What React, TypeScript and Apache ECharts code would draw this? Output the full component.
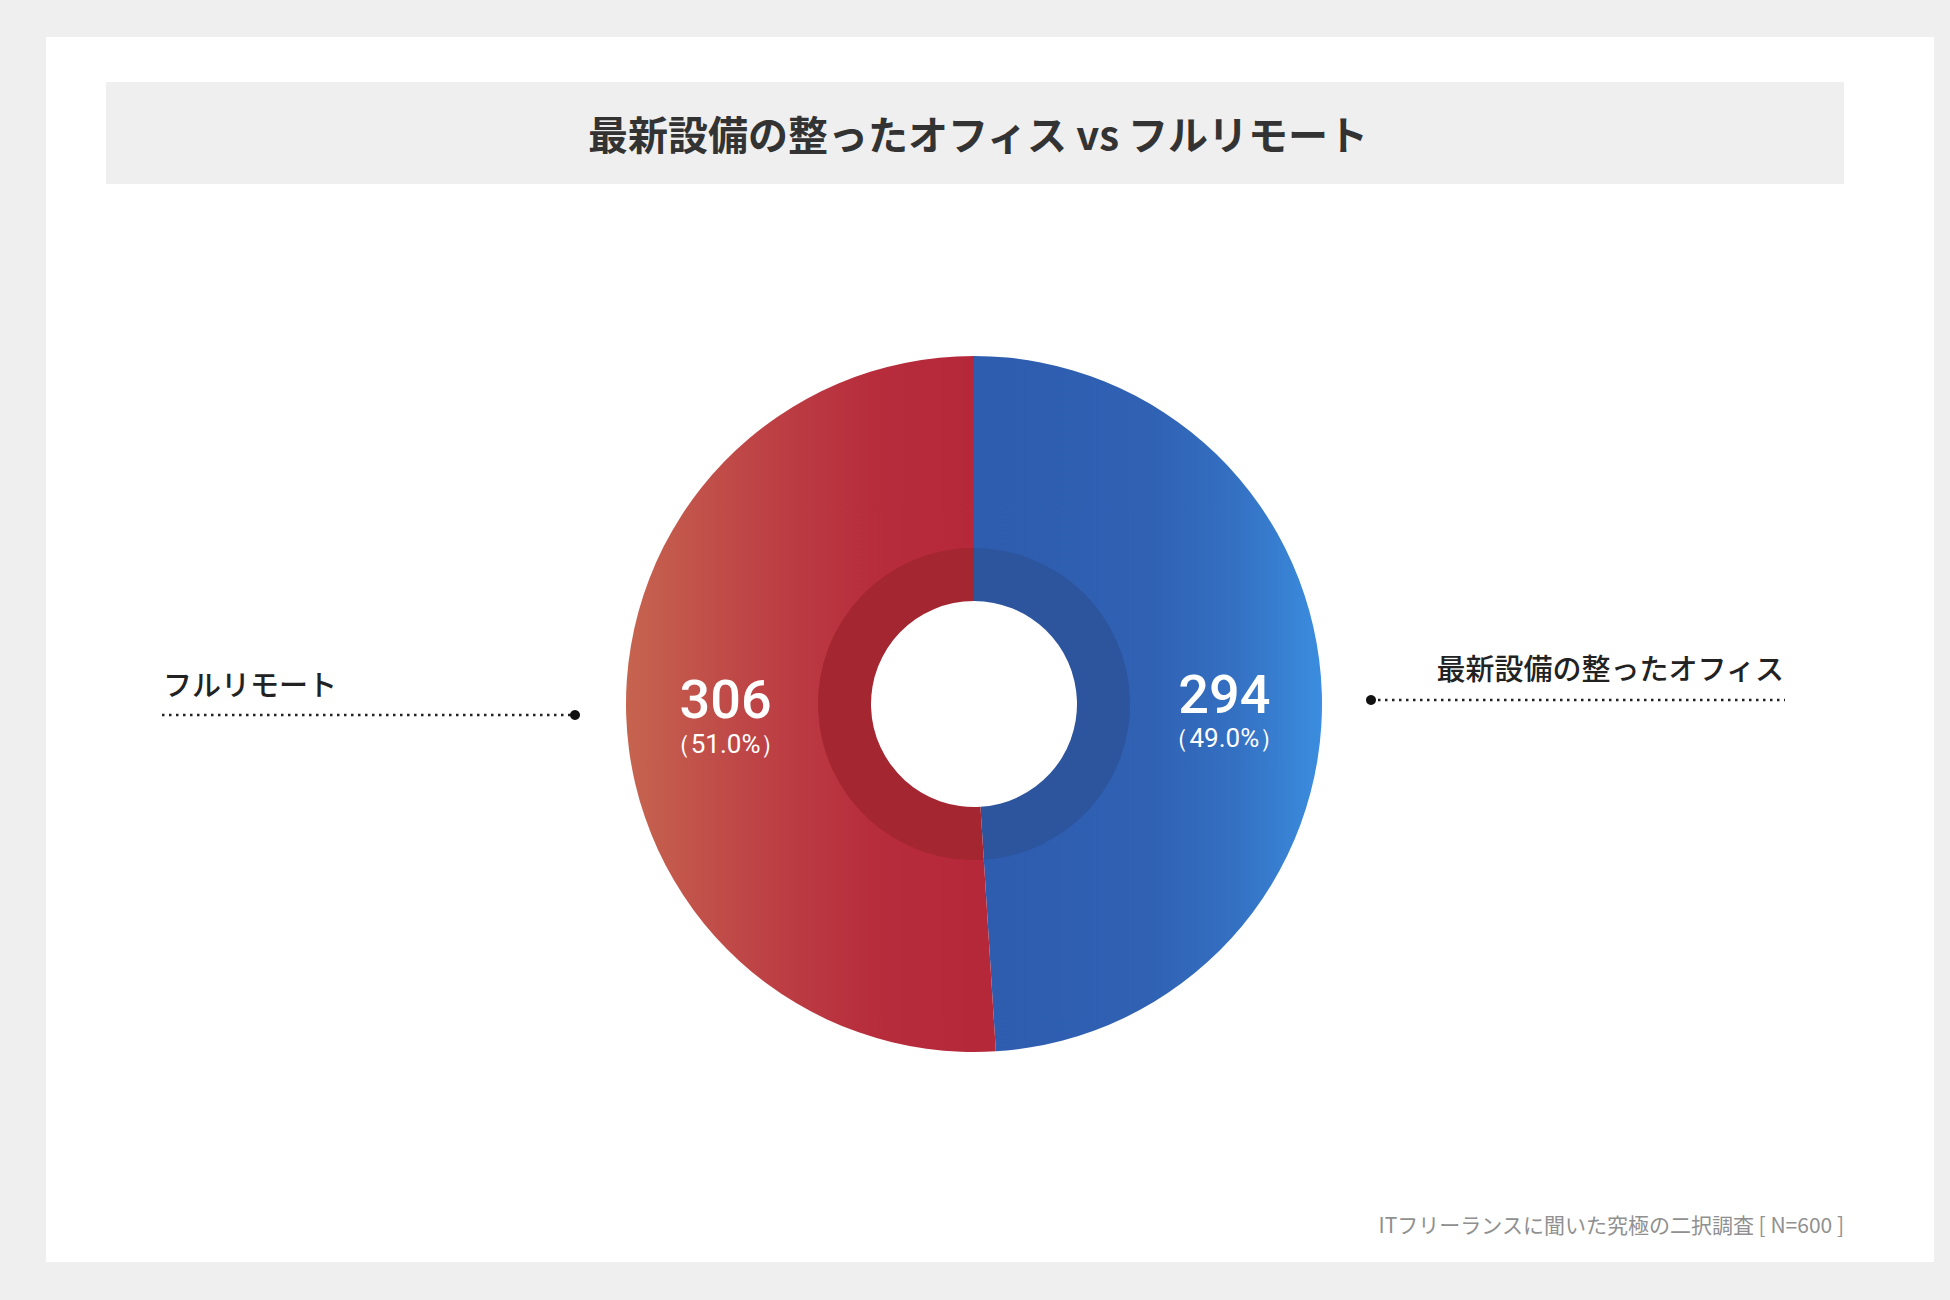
import React, { useEffect, useRef } from 'react';
import * as echarts from 'echarts';

// survey data
const TITLE = '最新設備の整ったオフィス vs フルリモート';
const CATEGORIES = ['最新設備の整ったオフィス', 'フルリモート'];
const VALUES = [294, 306];
const SOURCE_NOTE = 'ITフリーランスに聞いた究極の二択調査 [ N=600 ]';

const JP_FONT = "'Noto Sans CJK JP', 'Noto Sans', sans-serif";
const NUM_FONT = "Roboto, 'Noto Sans', sans-serif";

// donut geometry
const CX = 974;
const CY = 704;
const R_OUT = 348;
const R_MID = 156;
const R_IN = 103;

const App: React.FC = () => {
  const chartRef = useRef<HTMLDivElement>(null);

  useEffect(() => {
    if (!chartRef.current) return;
    const chart = echarts.init(chartRef.current, null, { renderer: 'svg' });

    const blueGrad = new echarts.graphic.LinearGradient(CX, 0, CX + R_OUT, 0, [
      { offset: 0, color: '#2e5caf' },
      { offset: 0.5, color: '#3061b3' },
      { offset: 0.75, color: '#3470c2' },
      { offset: 1, color: '#3b8ddf' }
    ], true);
    const redGrad = new echarts.graphic.LinearGradient(CX - R_OUT, 0, CX, 0, [
      { offset: 0, color: '#c6644f' },
      { offset: 0.4, color: '#bd4145' },
      { offset: 0.7, color: '#b72d3c' },
      { offset: 1, color: '#b5283a' }
    ], true);
    const outerColors = [blueGrad, redGrad];
    const ringColors = ['#2c559e', '#a32630'];
    const labelOffsets = [[-4, 14], [6, 4]];

    const option = {
      animation: false,
      backgroundColor: '#efefef',
      graphic: [
        { type: 'rect', z: 0, silent: true, shape: { x: 46, y: 37, width: 1888, height: 1225 }, style: { fill: '#ffffff' } },
        { type: 'rect', z: 1, silent: true, shape: { x: 106, y: 82, width: 1738, height: 102 }, style: { fill: '#efefef' } },
        {
          type: 'text', z: 2, x: 978, y: 133,
          style: { text: TITLE, font: `bold 40px ${JP_FONT}`, fill: '#333333', textAlign: 'center', textVerticalAlign: 'middle' }
        },
        // left label: フルリモート
        {
          type: 'text', z: 2, x: 163, y: 683,
          style: { text: CATEGORIES[1], font: `500 29px ${JP_FONT}`, fill: '#222222', textAlign: 'left', textVerticalAlign: 'middle' }
        },
        { type: 'line', z: 2, shape: { x1: 162, y1: 715, x2: 575, y2: 715 }, style: { stroke: '#222222', lineWidth: 2.5, lineDash: [2.5, 4.5] } },
        { type: 'circle', z: 2, shape: { cx: 575, cy: 715, r: 5 }, style: { fill: '#111111' } },
        // right label: office
        {
          type: 'text', z: 2, x: 1784, y: 667,
          style: { text: CATEGORIES[0], font: `500 29px ${JP_FONT}`, fill: '#222222', textAlign: 'right', textVerticalAlign: 'middle' }
        },
        { type: 'line', z: 2, shape: { x1: 1371, y1: 700, x2: 1785, y2: 700 }, style: { stroke: '#222222', lineWidth: 2.5, lineDash: [2.5, 4.5] } },
        { type: 'circle', z: 2, shape: { cx: 1371, cy: 700, r: 5 }, style: { fill: '#111111' } },
        {
          type: 'text', z: 2, x: 1844, y: 1224,
          style: { text: SOURCE_NOTE, font: `21px ${JP_FONT}`, fill: '#909090', textAlign: 'right', textVerticalAlign: 'middle' }
        }
      ],
      series: [
        {
          type: 'pie',
          z: 3,
          center: [CX, CY],
          radius: [R_MID - 1, R_OUT],
          startAngle: 90,
          clockwise: true,
          silent: true,
          avoidLabelOverlap: false,
          emphasis: { disabled: true },
          labelLine: { show: false },
          label: {
            show: true,
            position: 'inside',
            formatter: (p: any) => `{n|${p.value}}\n{p|（${p.percent.toFixed(1)}%）}`,
            rich: {
              n: { fontFamily: NUM_FONT, fontWeight: 500, fontSize: 54, lineHeight: 56, color: '#ffffff', align: 'center' },
              p: { fontFamily: NUM_FONT, fontSize: 26, lineHeight: 32, color: '#ffffff', align: 'center' }
            }
          },
          data: CATEGORIES.map((name, i) => ({
            name,
            value: VALUES[i],
            itemStyle: { color: outerColors[i] },
            label: { offset: labelOffsets[i] }
          }))
        },
        {
          type: 'pie',
          z: 3,
          center: [CX, CY],
          radius: [R_IN, R_MID],
          startAngle: 90,
          clockwise: true,
          silent: true,
          emphasis: { disabled: true },
          label: { show: false },
          labelLine: { show: false },
          data: CATEGORIES.map((name, i) => ({
            name,
            value: VALUES[i],
            itemStyle: { color: ringColors[i] }
          }))
        }
      ]
    };

    chart.setOption(option);
    return () => {
      chart.dispose();
    };
  }, []);

  return (
    <div
      ref={chartRef}
      style={{ position: 'absolute', left: 0, top: 0, width: '1950px', height: '1300px' }}
    />
  );
};

export default App;
